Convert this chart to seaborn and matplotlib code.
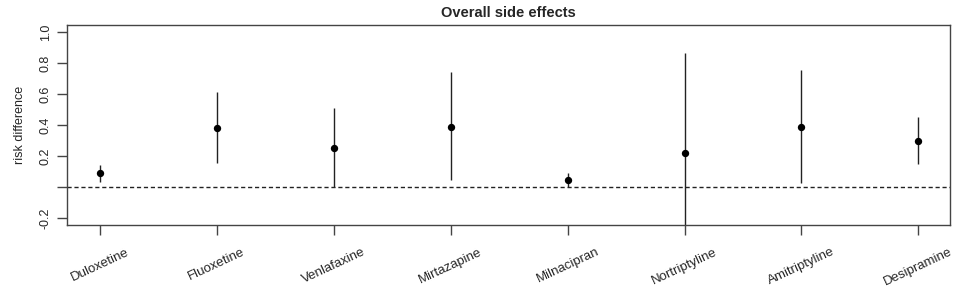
"""
Overall side effects: risk difference with intervals per antidepressant
"""

import pandas as pd
import matplotlib.pyplot as plt
import seaborn as sns

# values
drugs = ['Duloxetine', 'Fluoxetine', 'Venlafaxine', 'Mirtazapine',
         'Milnacipran', 'Nortriptyline', 'Amitriptyline', 'Desipramine']
estimate = [0.09, 0.38, 0.25, 0.39, 0.045, 0.22, 0.39, 0.295]
lower = [0.03, 0.155, 0.0, 0.045, 0.0, -0.30, 0.025, 0.15]
upper = [0.14, 0.61, 0.51, 0.74, 0.09, 0.865, 0.755, 0.45]
y_ticks = [-0.2, 0.0, 0.2, 0.4, 0.6, 0.8, 1.0]
y_tick_labels = ['-0.2', '', '0.2', '0.4', '0.6', '0.8', '1.0']

df = pd.DataFrame({'drug': drugs, 'estimate': estimate, 'lower': lower, 'upper': upper})
df['pos'] = range(len(df))

sns.set_theme(style="white")
plt.rcParams['font.family'] = ['Liberation Sans', 'DejaVu Sans']

fig = plt.figure(figsize=(9.59, 2.93), dpi=100)
ax = fig.add_axes([67 / 959, 68 / 293, 883 / 959, 200 / 293])

# intervals and reference line
ax.vlines(df['pos'], df['lower'], df['upper'], color='#222222', linewidth=1.0, zorder=2)
ax.axhline(0, color='#222222', linestyle=(0, (3, 2)), linewidth=1.0, zorder=1)
sns.scatterplot(x='pos', y='estimate', data=df, color='black', s=28,
                edgecolor='black', linewidth=0, zorder=3, ax=ax, legend=False)

ax.set_xlim(-0.28, 7.27)
ax.set_ylim(-0.245, 1.045)
ax.set_xticks(df['pos'])
ax.set_xticklabels(drugs, rotation=25, ha='center', fontsize=9.5)
ax.set_yticks(y_ticks)
ax.set_yticklabels(y_tick_labels, rotation=90, va='center', fontsize=9)
ax.tick_params(axis='both', direction='out', length=7, width=1, color='#444444',
               bottom=True, left=True, pad=4)
ax.tick_params(axis='x', pad=8)
for spine in ax.spines.values():
    spine.set_color('#444444')
    spine.set_linewidth(1.0)

ax.set_xlabel('')
ax.set_ylabel('risk difference', fontsize=9, labelpad=10)
ax.set_title('Overall side effects', fontsize=10.5, fontweight='bold', pad=6)

fig.savefig('out.png', dpi=100, facecolor='white')
